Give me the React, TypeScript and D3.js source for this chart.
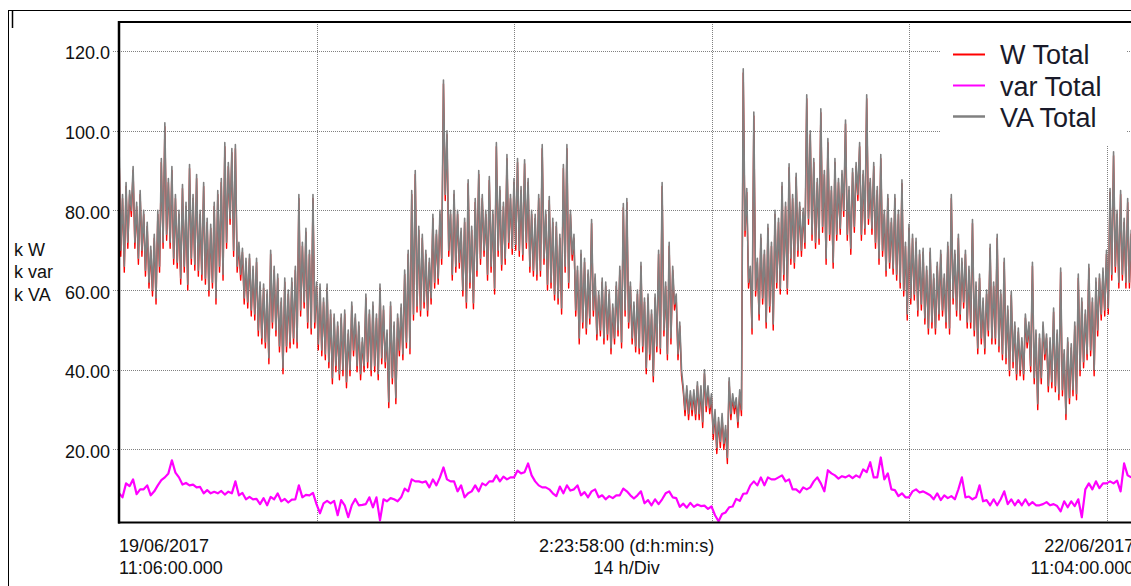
import React from "react";
import * as d3 from "d3";

// ---- data (VA / W sampled every 7.5 min, var every 15 min, from 19/06/2017 11:06) ----
const STEP_H = 0.125;
const VAR_STEP_H = 0.25;
const SPAN_H = 71 + 58 / 60; // 2:23:58:00
const DIV_H = 14;

const vaTotal = [
  97,70, 84,66, 87,72, 85,80, 91,72, 82,68, 85,70, 80,65, 77,62, 71,60,
  74,58, 80,66, 93,72, 102,74, 88,72, 91,68, 84,67, 80,63, 86.5,66, 82,61.5,
  91.5,68, 84,66.5, 89,65, 80,64, 87,63, 78,60, 76.5,62, 82,58, 85,66, 88,64,
  97,72, 92,78, 95.5,70, 96.5,66, 72,64, 70.5,58, 68,57, 69,55, 66,54, 68,50,
  62,48, 61.5,47, 60,43, 70,52, 66,50, 64,46, 58,40.5, 63,46, 60,47, 63,48,
  66,47, 84,55, 72,57, 75.5,52, 70,50.5, 84,52, 62,46.5, 61.5,45, 58,44, 61.5,42,
  55,38, 54,41, 52,39, 54,40, 55,37, 50,40, 57,45, 54,41, 52,39, 48,41,
  59,42, 55,40, 57,41, 54,39, 61.5,43, 56,42, 50,32, 57,38, 52,33, 54,45,
  56.5,44, 65,47, 70,45.5, 85,54, 90,56, 76,55, 74,57, 70,55, 68,58, 79,62,
  75,63, 80,68, 112.7,84, 100,70, 80,64, 85,66, 80,67, 75.5,60, 78,57, 87.7,62,
  76,56.8, 83,65, 90,68, 84,70, 80,64, 88.5,66, 80,60.5, 97,70, 86,66.5, 82,68,
  94,72, 84,70.5, 88,71.5, 93,70, 86,69, 92.7,72, 88,66, 80,65, 79,64, 84,65,
  96.5,68, 80,61.5, 83.5,62, 78,59, 77,58, 74,55.5, 91.5,66, 96.5,62, 80,69, 74,55,
  66,48, 70,52, 68,50.5, 65,53, 77.7,55, 64,49, 59.7,50, 63,48, 62,49, 60,45.5,
  56.5,48, 62,50, 66,47, 81.7,55, 83,52, 62,48, 57,46, 60,45.5, 67,46, 58,40.5,
  59,44, 55,38.5, 59,46, 70,45.5, 87,50, 62,44, 72,48, 66,56.5, 59,44, 52,40,
  35.5,30, 36,29, 34.7,30, 35,29, 37,29, 36,27, 40,31, 36,30.5, 34,24, 30,20.5,
  28,22, 29,21.5, 26,18, 38,29, 34,30.5, 33,27, 35,30, 115.5,75, 85.5,62, 66,50.5,
  104.7,60, 68,54, 74,58, 70,52, 76.5,56, 72,51.5, 80,62, 78,60.5, 87,64, 82,60.5,
  91.7,68, 84,67, 89.3,70, 82,70, 80.5,72, 109,78, 100,74, 93,72, 88,73, 105.5,76,
  90,68, 98,74, 86,67, 93,74, 88,75.5, 90,80, 102.7,74, 86,70.5, 90.5,76, 92,84,
  97,74, 90,75.5, 109,78, 88,75.5, 92,72, 86,68, 94,70, 80,65, 84,67, 78,65.5,
  84,64, 80,62, 87.7,60, 72,54, 76.5,58, 74,59, 73,55, 70,56.5, 70.5,53, 66,50.5,
  70.5,52, 64,50.5, 67,54, 70,55, 64,52, 72,50.5, 84,58, 70,55, 74,54, 68,57,
  70,52, 66,52, 77.7,50, 62,45.5, 64,48, 58,45.5, 60,50, 71.5,48, 62,48, 74,46,
  60,44, 68,43, 56,40, 59.7,42, 52,39, 50.5,40, 48,39, 54,47, 52,41, 67,38,
  50,31.5, 49,38, 52,44, 49,36, 48,37, 55.5,36, 50,34, 65.5,35, 45,29, 48,33,
  46.5,35, 52,34, 64,40, 58,42, 55,44, 66.5,45, 58,40, 63,50, 64,54, 65.5,55,
  70,55.5, 85.5,64, 94.7,66, 80,62, 85,64, 78,62, 83,62, 75,60.5,
];

const wTotal = [
  96,68.5, 83,64.5, 86,70.5, 84,78.5, 90,70.5, 81,66.5, 84,68.5, 79,63.5, 76,60.5, 70,58.5,
  73,56.5, 79,64.5, 92,70.5, 101,72.5, 87,70.5, 90,66.5, 83,65.5, 79,61.5, 85.5,64.5, 81,60,
  90.5,66.5, 83,65, 88,63.5, 79,62.5, 86,61.5, 77,58.5, 75.5,60.5, 81,56.5, 84,64.5, 87,62.5,
  96,70.5, 91,76.5, 94.5,68.5, 95.5,64.5, 71,62.5, 69.5,56.5, 67,55.5, 68,53.5, 65,52.5, 67,48.5,
  61,46.5, 60.5,45.5, 59,41.5, 69,50.5, 65,48.5, 63,44.5, 57,39, 62,44.5, 59,45.5, 62,46.5,
  65,45.5, 83,53.5, 71,55.5, 74.5,50.5, 69,49, 83,50.5, 61,45, 60.5,43.5, 57,42.5, 60.5,40.5,
  54,36.5, 53,39.5, 51,37.5, 53,38.5, 54,35.5, 49,38.5, 56,43.5, 53,39.5, 51,37.5, 47,39.5,
  58,40.5, 54,38.5, 56,39.5, 53,37.5, 60.5,41.5, 55,40.5, 49,30.5, 56,36.5, 51,31.5, 53,43.5,
  55.5,42.5, 64,45.5, 69,44, 84,52.5, 89,54.5, 75,53.5, 73,55.5, 69,53.5, 67,56.5, 78,60.5,
  74,61.5, 79,66.5, 111.7,82.5, 99,68.5, 79,62.5, 84,64.5, 79,65.5, 74.5,58.5, 77,55.5, 86.7,60.5,
  75,55.3, 82,63.5, 89,66.5, 83,68.5, 79,62.5, 87.5,64.5, 79,59, 96,68.5, 85,65, 81,66.5,
  93,70.5, 83,69, 87,70, 92,68.5, 85,67.5, 91.7,70.5, 87,64.5, 79,63.5, 78,62.5, 83,63.5,
  95.5,66.5, 79,60, 82.5,60.5, 77,57.5, 76,56.5, 73,54, 90.5,64.5, 95.5,60.5, 79,67.5, 73,53.5,
  65,46.5, 69,50.5, 67,49, 64,51.5, 76.7,53.5, 63,47.5, 58.7,48.5, 62,46.5, 61,47.5, 59,44,
  55.5,46.5, 61,48.5, 65,45.5, 80.7,53.5, 82,50.5, 61,46.5, 56,44.5, 59,44, 66,44.5, 57,39,
  58,42.5, 54,37, 58,44.5, 69,44, 86,48.5, 61,42.5, 71,46.5, 65,55, 58,42.5, 51,38.5,
  34.5,28.5, 35,27.5, 33.7,28.5, 34,27.5, 36,27.5, 35,25.5, 39,29.5, 35,29, 33,22.5, 29,19,
  27,20.5, 28,20, 25,16.5, 37,27.5, 33,29, 32,25.5, 34,28.5, 114.5,73.5, 84.5,60.5, 65,49,
  103.7,58.5, 67,52.5, 73,56.5, 69,50.5, 75.5,54.5, 71,50, 79,60.5, 77,59, 86,62.5, 81,59,
  90.7,66.5, 83,65.5, 88.3,68.5, 81,68.5, 79.5,70.5, 108,76.5, 99,72.5, 92,70.5, 87,71.5, 104.5,74.5,
  89,66.5, 97,72.5, 85,65.5, 92,72.5, 87,74, 89,78.5, 101.7,72.5, 85,69, 89.5,74.5, 91,82.5,
  96,72.5, 89,74, 108,76.5, 87,74, 91,70.5, 85,66.5, 93,68.5, 79,63.5, 83,65.5, 77,64,
  83,62.5, 79,60.5, 86.7,58.5, 71,52.5, 75.5,56.5, 73,57.5, 72,53.5, 69,55, 69.5,51.5, 65,49,
  69.5,50.5, 63,49, 66,52.5, 69,53.5, 63,50.5, 71,49, 83,56.5, 69,53.5, 73,52.5, 67,55.5,
  69,50.5, 65,50.5, 76.7,48.5, 61,44, 63,46.5, 57,44, 59,48.5, 70.5,46.5, 61,46.5, 73,44.5,
  59,42.5, 67,41.5, 55,38.5, 58.7,40.5, 51,37.5, 49.5,38.5, 47,37.5, 53,45.5, 51,39.5, 66,36.5,
  49,30, 48,36.5, 51,42.5, 48,34.5, 47,35.5, 54.5,34.5, 49,32.5, 64.5,33.5, 44,27.5, 47,31.5,
  45.5,33.5, 51,32.5, 63,38.5, 57,40.5, 54,42.5, 65.5,43.5, 57,38.5, 62,48.5, 63,52.5, 64.5,53.5,
  69,54, 84.5,62.5, 93.7,64.5, 79,60.5, 84,62.5, 77,60.5, 82,60.5, 74,59,
];

const varTotal = [
  9,8,11.5,10.8,12.5,8.8,10,10,11,8.5,
  9.5,11,12.3,13,14,17.3,14.2,13,11.2,11.6,
  11,11.2,10.5,10.6,9,9.8,9,9.4,9,9.6,
  8.7,9.4,9,12,8.5,9.1,7.5,8.1,7.5,7.6,
  6.3,7.8,6,8.1,7.5,9,7,7.6,6.7,7.4,
  7.5,11,8,8.6,8.5,9.1,6.3,4,6.5,7.1,
  6.5,7.1,3.5,7.3,6,3,6,7.6,6,6.1,
  6.3,8,5.5,8,2.2,7.5,7,7.8,7.5,7,
  8,10.2,9.5,12.5,12,12,11.7,12,10.5,12.5,
  11,13,15.5,12.5,12,12,9.5,11,8,9,
  9.5,11,9.5,11.5,11,12,12,13.5,12,13.2,
  12.5,13,13,14.7,14,14.3,16.5,13.5,12,11,
  10.5,10.5,10,9,8.3,10.7,9,11,9.7,10,
  11,8.5,9.3,8,9.5,10,8,8.5,7.5,8.3,
  7.8,8.5,8.5,10.2,9.5,8.5,7.7,8.5,9.5,6.5,
  7.3,6,7.5,6.3,7.5,9,9.5,8,7.8,5.6,
  6.4,5.4,6.6,5.6,6.2,5.8,5.9,5.1,5.7,3.5,
  2,3.8,4.2,5.5,5.7,7.6,7.1,8.9,9,11,
  12,11,13,11,13,12.5,12.5,13,13.5,12,
  12.5,10,10,9.2,10.5,10,10.5,12,13,11.5,
  9.5,14.8,14,13.5,12.7,13.3,13,13.5,12.8,13.5,
  13,15,14.3,16.8,13,13,18,12.5,14,10,
  9.8,8.3,9,8,8,9.5,10,9.2,9.5,9,
  8.5,7.5,9,7.3,8.5,7.8,8.3,7.5,10,13,
  8,8.2,7.5,8,11,7,7.3,6,7.5,6,
  7.5,9.5,6.3,7.5,6,7.3,6,7.5,6,6.8,
  6,6,6.3,6.8,6,6.3,5.8,4.5,7,5.5,
  7,5.8,7.5,3,10,11.5,10,12,10.3,11.5,
  11.5,12,11.5,12.2,9.5,16.5,13.5,13,
];

const yTicks = [120, 100, 80, 60, 40, 20];
const yTickLabels = ["120.0", "100.0", "80.00", "60.00", "40.00", "20.00"];
const yUnits = ["k W", "k var", "k VA"];
const seriesNames = ["W Total", "var Total", "VA Total"];
const seriesColors = ["#ff0000", "#ff00ff", "#808080"];
const startLabel = ["19/06/2017", "11:06:00.000"];
const midLabel = ["2:23:58:00 (d:h:min:s)", "14 h/Div"];
const endLabel = ["22/06/2017", "11:04:00.000"];

const FONT = "'Liberation Sans', Arial, Helvetica, sans-serif";

export default function App() {
  const W = 1131, H = 586;
  const left = 119, top = 22, bottom = 522.5;
  const right = left + (SPAN_H * 197.5) / DIV_H;

  const x = d3.scaleLinear().domain([0, SPAN_H]).range([left, right]);
  const y = d3.scaleLinear().domain([1.68, 127.4]).range([bottom, 21.5]);

  const mk = (arr: number[], step: number) =>
    d3
      .line<number>()
      .x((_, i) => x(i * step))
      .y((v) => y(v))(arr) || "";

  const xGrid = d3.range(DIV_H, SPAN_H, DIV_H);
  const midX = (left + right) / 2;

  return (
    <svg
      width={W}
      height={H}
      style={{ position: "absolute", left: 0, top: 0, background: "#fff" }}
      fontFamily={FONT}
    >
      <defs>
        <clipPath id="plot">
          <rect x={left + 1} y={top} width={right - left} height={bottom - top} />
        </clipPath>
      </defs>
      <rect x={0} y={0} width={W} height={H} fill="#fff" />
      {/* outer frame */}
      <line x1={8} x2={W} y1={10.5} y2={10.5} stroke="#000" strokeWidth={1} />
      <line x1={8.5} x2={8.5} y1={10} y2={H} stroke="#000" strokeWidth={1} />
      <line x1={12.5} x2={12.5} y1={11} y2={28} stroke="#000" strokeWidth={1.5} />

      {/* grid */}
      {yTicks.map((t) => (
        <line
          key={"h" + t}
          x1={113}
          x2={W}
          y1={Math.round(y(t)) + 0.5}
          y2={Math.round(y(t)) + 0.5}
          stroke="#808080"
          strokeWidth={1}
          strokeDasharray="1,1"
        />
      ))}
      {xGrid.map((t) => (
        <line
          key={"v" + t}
          x1={Math.round(x(t)) + 0.5}
          x2={Math.round(x(t)) + 0.5}
          y1={top}
          y2={bottom}
          stroke="#808080"
          strokeWidth={1}
          strokeDasharray="1,1"
        />
      ))}

      {/* series */}
      <g clipPath="url(#plot)">
        <path d={mk(wTotal, STEP_H)} fill="none" stroke={seriesColors[0]} strokeWidth={1.4} strokeLinejoin="round" />
        <path d={mk(vaTotal, STEP_H)} fill="none" stroke={seriesColors[2]} strokeWidth={1.6} strokeLinejoin="round" />
        <path d={mk(varTotal, VAR_STEP_H)} fill="none" stroke={seriesColors[1]} strokeWidth={2.2} strokeLinejoin="round" />
      </g>

      {/* plot frame */}
      <line x1={left - 1} x2={W} y1={top} y2={top} stroke="#000" strokeWidth={2} />
      <line x1={left} x2={left} y1={top - 1} y2={bottom + 1} stroke="#000" strokeWidth={2.5} />
      <line x1={left - 1} x2={W} y1={bottom} y2={bottom} stroke="#000" strokeWidth={2} />

      {/* y tick labels */}
      {yTicks.map((t, i) => (
        <text key={"yl" + t} x={110} y={y(t) + 8.5} textAnchor="end" fontSize={18} fill="#111">
          {yTickLabels[i]}
        </text>
      ))}
      {yUnits.map((u, i) => (
        <text key={u} x={14} y={255.7 + i * 22.7} fontSize={18} fill="#111">
          {u}
        </text>
      ))}

      {/* x labels */}
      <text x={left} y={551.7} fontSize={18} fill="#111">{startLabel[0]}</text>
      <text x={left} y={574} fontSize={18} fill="#111">{startLabel[1]}</text>
      <text x={midX} y={551.7} fontSize={18} fill="#111" textAnchor="middle">{midLabel[0]}</text>
      <text x={midX} y={574} fontSize={18} fill="#111" textAnchor="middle">{midLabel[1]}</text>
      <text x={right} y={551.7} fontSize={18} fill="#111" textAnchor="end">{endLabel[0]}</text>
      <text x={right} y={574} fontSize={18} fill="#111" textAnchor="end">{endLabel[1]}</text>

      {/* legend */}
      <rect x={941} y={top + 1} width={186} height={122} fill="#fff" />
      {seriesNames.map((n, i) => (
        <g key={n}>
          <line
            x1={953}
            x2={985}
            y1={54.5 + i * 31}
            y2={54.5 + i * 31}
            stroke={seriesColors[i]}
            strokeWidth={i === 2 ? 2.5 : 2}
          />
          <text x={1000} y={64 + i * 31.5} fontSize={27} fill="#1a1a2a">
            {n}
          </text>
        </g>
      ))}
    </svg>
  );
}
